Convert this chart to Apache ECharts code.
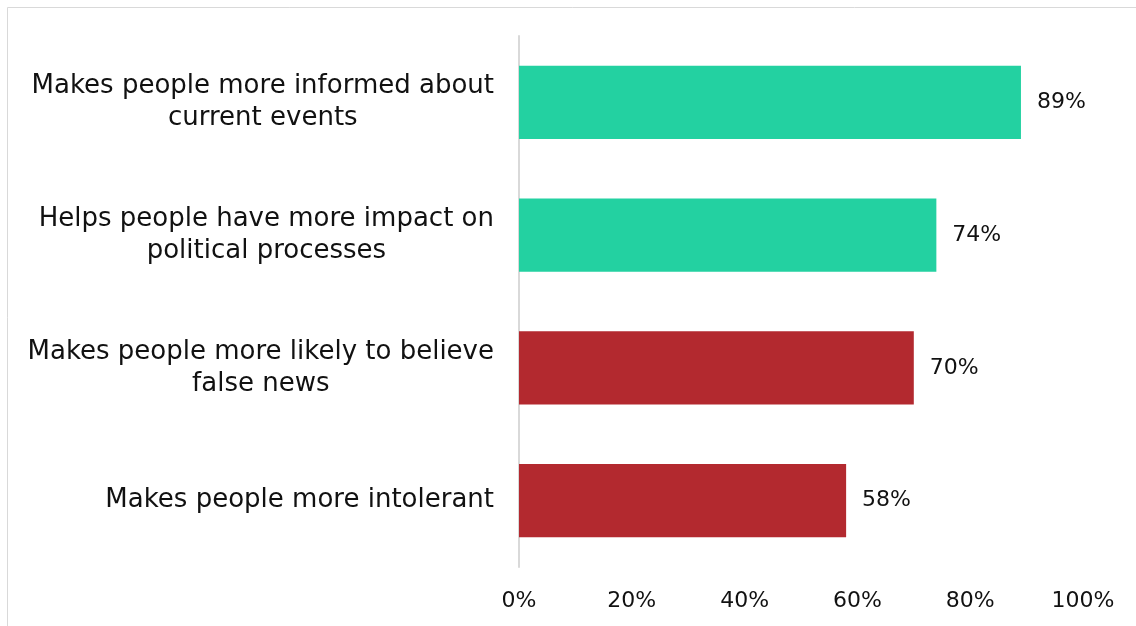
<!DOCTYPE html>
<html>
<head>
<meta charset="utf-8">
<script src="https://cdn.jsdelivr.net/npm/echarts@6/dist/echarts.min.js"></script>
<style>
  html, body { margin: 0; padding: 0; background: #ffffff; }
  #chart { width: 1136px; height: 626px; }
</style>
</head>
<body>
<div id="chart"></div>
<script>
const categories = [
  "Makes people more informed about\ncurrent events",
  "Helps people have more impact on\npolitical processes",
  "Makes people more likely to believe\nfalse news",
  "Makes people more intolerant"
];
const values = [89, 74, 70, 58];
const sentiment = ["positive", "positive", "negative", "negative"];
const xTicks = [0, 20, 40, 60, 80, 100];

const palette = { positive: "#23D1A1", negative: "#B3292F" };
const FONT = "DejaVu Sans";

const chart = echarts.init(document.getElementById("chart"), null, { renderer: "canvas" });
chart.setOption({
  animation: false,
  backgroundColor: "#ffffff",
  graphic: [{
    type: "rect",
    shape: { x: 7.5, y: 7.5, width: 1140, height: 640 },
    style: { fill: "none", stroke: "#d9d9d9", lineWidth: 1 },
    silent: true
  }],
  grid: { left: 519, right: 53, top: 36, bottom: 59, containLabel: false },
  xAxis: {
    type: "value",
    min: xTicks[0],
    max: xTicks[xTicks.length - 1],
    interval: xTicks[1] - xTicks[0],
    axisLine: { show: false },
    axisTick: { show: false },
    splitLine: { show: false },
    axisLabel: {
      formatter: "{value}%",
      color: "#111111",
      fontFamily: FONT,
      fontSize: 22,
      margin: 23
    }
  },
  yAxis: {
    type: "category",
    inverse: true,
    data: categories,
    axisLine: { show: true, lineStyle: { color: "#d9d9d9", width: 2 } },
    axisTick: { show: false },
    axisLabel: {
      align: "right",
      margin: 25,
      formatter: function (v) {
        return v.split("\n").map(function (s) { return "{c|" + s + "}"; }).join("\n");
      },
      rich: {
        c: {
          align: "center",
          color: "#111111",
          fontFamily: FONT,
          fontSize: 26,
          lineHeight: 32
        }
      }
    }
  },
  series: [{
    type: "bar",
    data: values.map((v, i) => ({ value: v, itemStyle: { color: palette[sentiment[i]] } })),
    barCategoryGap: "45%",
    label: {
      show: true,
      position: "right",
      distance: 16,
      formatter: "{c}%",
      color: "#111111",
      fontFamily: FONT,
      fontSize: 22
    }
  }]
});
</script>
</body>
</html>
